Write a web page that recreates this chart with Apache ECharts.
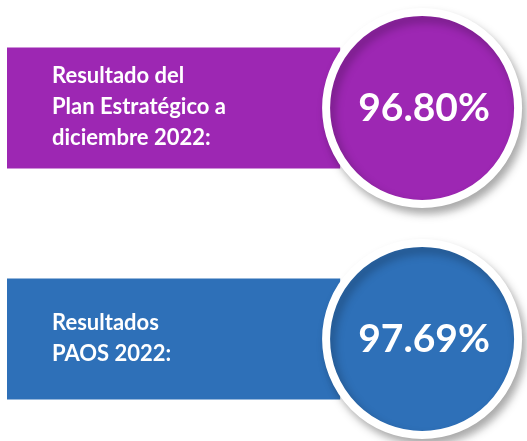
<!DOCTYPE html>
<html>
<head>
<meta charset="utf-8">
<script src="https://cdn.jsdelivr.net/npm/echarts@6/dist/echarts.min.js"></script>
<style>
  html, body { margin: 0; padding: 0; background: #fff; }
  #main { width: 527px; height: 441px; }
</style>
</head>
<body>
<div id="main"></div>
<script>
// 指标名称（每行一个卡片）
const labels = ['Resultado del\nPlan Estratégico a\ndiciembre 2022:', 'Resultados\nPAOS 2022:']
// 百分比结果
const values = [96.80, 97.69]

const fillColors = ['#9d27b3', '#2e70b8']
const barEnd = 64.7    // 矩形右端在 x 轴上的位置
const circleAt = 80.6  // 圆心在 x 轴上的位置

const chart = echarts.init(document.getElementById('main'))

// 左侧矩形卡片 + 文字
function renderCard(params, api) {
  const row = api.value(1)
  const start = api.coord([0, row])
  const end = api.coord([barEnd, row])
  const h = 121
  return {
    type: 'group',
    children: [
      {
        type: 'rect',
        shape: { x: start[0], y: start[1] - h / 2, width: end[0] - start[0], height: h },
        style: { fill: fillColors[params.dataIndex] }
      },
      {
        type: 'text',
        x: start[0] + 45,
        y: start[1] - 1,
        style: {
          text: labels[params.dataIndex],
          fill: '#fff',
          fontFamily: 'Lato',
          fontWeight: 'bold',
          fontSize: 22,
          lineHeight: 31,
          align: 'left',
          verticalAlign: 'middle'
        }
      }
    ]
  }
}

const option = {
  animation: false,
  grid: { left: 7, right: 5, top: 0, bottom: 0 },
  xAxis: { type: 'value', min: 0, max: 100, show: false },
  // 行序号作为 y 值，范围调整使两行落在合适位置
  yAxis: { type: 'value', inverse: true, min: -0.4675, max: 1.4416, show: false },
  series: [
    {
      type: 'custom',
      renderItem: renderCard,
      data: labels.map((name, i) => [barEnd, i])
    },
    {
      type: 'scatter',
      z: 5,
      symbol: 'circle',
      symbolSize: 192,
      data: values.map((v, i) => ({
        value: [circleAt, i, v],
        itemStyle: { color: fillColors[i] }
      })),
      itemStyle: {
        opacity: 1,
        borderColor: '#fff',
        borderWidth: 8,
        shadowColor: 'rgba(0,0,0,0.28)',
        shadowBlur: 10,
        shadowOffsetX: 4,
        shadowOffsetY: 6
      },
      label: {
        show: true,
        position: 'inside',
        offset: [2, 0],
        formatter: (p) => p.value[2].toFixed(2) + '%',
        color: '#fff',
        fontFamily: 'Lato',
        fontWeight: 'bold',
        fontSize: 39
      }
    }
  ]
}
chart.setOption(option)
</script>
</body>
</html>
